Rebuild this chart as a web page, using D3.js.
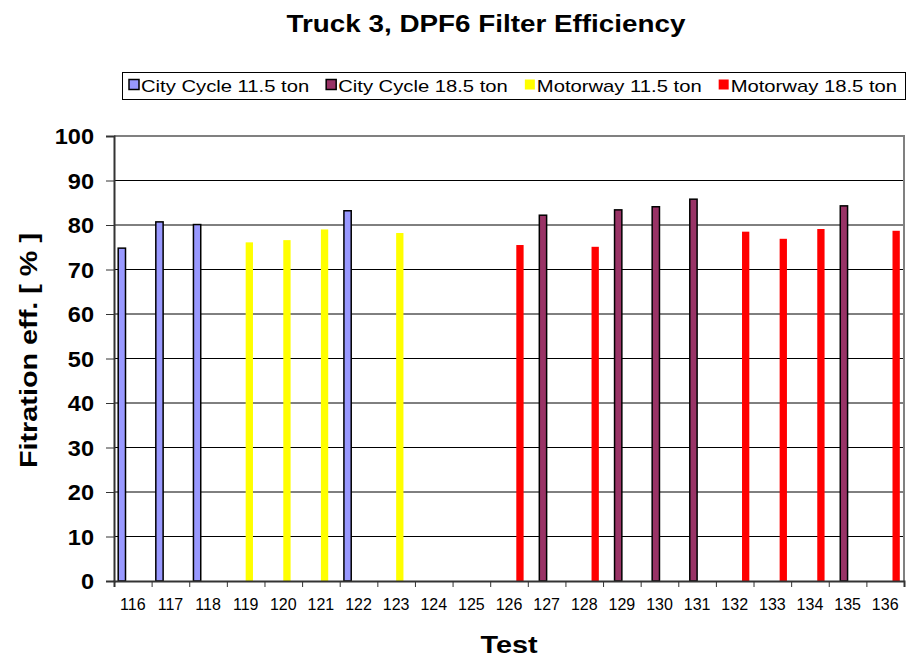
<!DOCTYPE html>
<html>
<head>
<meta charset="utf-8">
<script src="https://cdn.jsdelivr.net/npm/d3@7"></script>
<style>
  body { margin: 0; background: #fff; }
  svg { display: block; font-family: "Liberation Sans", Arial, sans-serif; }
</style>
</head>
<body>
<script>
// test numbers along the x axis
var tests = ["116", "117", "118", "119", "120", "121", "122", "123", "124", "125", "126",
             "127", "128", "129", "130", "131", "132", "133", "134", "135", "136"];

var seriesNames = ["City Cycle 11.5 ton", "City Cycle 18.5 ton", "Motorway 11.5 ton", "Motorway 18.5 ton"];
var seriesColors = ["#9999FF", "#993366", "#FFFF00", "#FF0000"];

// filtration efficiency [%] per test, null = not run in that series
var cityCycle115 = [74.8, 80.7, 80.1, null, null, null, 83.2, null, null, null, null,
                    null, null, null, null, null, null, null, null, null, null];
var cityCycle185 = [null, null, null, null, null, null, null, null, null, null, null,
                    82.2, null, 83.4, 84.1, 85.8, null, null, null, 84.3, null];
var motorway115  = [null, null, null, 76.1, 76.6, 79.0, null, 78.2, null, null, null,
                    null, null, null, null, null, null, null, null, null, null];
var motorway185  = [null, null, null, null, null, null, null, null, null, null, 75.5,
                    null, 75.1, null, null, null, 78.5, 76.9, 79.1, null, 78.7];

var yTicks = [0, 10, 20, 30, 40, 50, 60, 70, 80, 90, 100];

var seriesValues = [cityCycle115, cityCycle185, motorway115, motorway185];

var margin = { top: 136, right: 2, bottom: 78, left: 114 },
    width = 906 - margin.left - margin.right,
    height = 659 - margin.top - margin.bottom;

var svg = d3.select("body").append("svg")
    .attr("width", 906)
    .attr("height", 659);

// text in the source picture is stretched sideways, so scale glyphs in x
function stretchedText(parent, x, y, str, size, sx, weight, anchor, rotate) {
    return parent.append("text")
        .attr("transform", "translate(" + x + "," + y + ")" + (rotate ? " rotate(" + rotate + ")" : "") + " scale(" + sx + ",1)")
        .attr("text-anchor", anchor || "start")
        .style("font-size", size + "px")
        .style("font-weight", weight || "normal")
        .text(str);
}

// title
stretchedText(svg, 486, 32, "Truck 3, DPF6 Filter Efficiency", 23, 1.21, "bold", "middle");

var g = svg.append("g")
    .attr("transform", "translate(" + margin.left + "," + margin.top + ")");

var x0 = d3.scaleBand().domain(tests).range([0, width]).padding(0);
var x1 = d3.scaleBand().domain(seriesNames).range([0, x0.bandwidth()])
    .paddingInner(0).paddingOuter(0.575);
var y = d3.scaleLinear().domain([0, 100]).range([height, 0]);
var color = d3.scaleOrdinal().domain(seriesNames).range(seriesColors);

// gridlines
g.append("g").selectAll("line")
    .data(yTicks.slice(1, -1))
    .enter().append("line")
    .attr("x1", 0).attr("x2", width)
    .attr("y1", function (d) { return y(d); })
    .attr("y2", function (d) { return y(d); })
    .attr("stroke", "#000")
    .attr("stroke-width", 1);

// plot frame top and right (grey)
g.append("path")
    .attr("d", "M0," + y(100) + "H" + width + "V" + height)
    .attr("fill", "none")
    .attr("stroke", "#808080")
    .attr("stroke-width", 2);

// bars
var barData = [];
seriesNames.forEach(function (s, i) {
    seriesValues[i].forEach(function (v, j) {
        if (v != null) barData.push({ series: s, test: tests[j], value: v, outline: i < 2 });
    });
});

g.append("g").selectAll("rect")
    .data(barData)
    .enter().append("rect")
    .attr("x", function (d) { return x0(d.test) + x1(d.series); })
    .attr("y", function (d) { return y(d.value); })
    .attr("width", x1.bandwidth())
    .attr("height", function (d) { return height - y(d.value); })
    .attr("fill", function (d) { return color(d.series); })
    .attr("stroke", function (d) { return d.outline ? "#000" : "none"; })
    .attr("stroke-width", 1.5);

// y axis
var yAxis = d3.axisLeft(y).tickValues(yTicks).tickSize(8).tickFormat("");
var yAxisG = g.append("g").call(yAxis);
yAxisG.select(".domain").attr("stroke", "#333").attr("stroke-width", 2);
yAxisG.selectAll(".tick line").attr("stroke", "#333");

yTicks.forEach(function (t) {
    stretchedText(g, -20, y(t) + 8, String(t), 22, 1.07, "bold", "end");
});

// x axis: ticks on category boundaries
var xIdx = d3.scaleLinear().domain([0, tests.length]).range([0, width]);
var xAxisG = g.append("g")
    .attr("transform", "translate(0," + height + ")")
    .call(d3.axisBottom(xIdx).tickValues(d3.range(tests.length + 1)).tickSize(6).tickFormat(""));
xAxisG.select(".domain").attr("stroke", "#333").attr("stroke-width", 2);
xAxisG.selectAll(".tick line").attr("stroke", "#333");

var xLabels = g.append("g")
    .attr("transform", "translate(0," + height + ")")
    .call(d3.axisBottom(x0).tickSize(0).tickPadding(18));
xLabels.select(".domain").remove();
xLabels.selectAll("text")
    .style("font-size", "16px")
    .style("font-family", "'Liberation Sans', Arial, sans-serif")
    .attr("fill", "#000");

// axis titles
stretchedText(svg, margin.left + width / 2, 653, "Test", 24, 1.2, "bold", "middle");
stretchedText(svg, 37, margin.top + height / 2 - 8, "Fitration eff. [ % ]", 24, 1.2, "bold", "middle", -90);

// legend
var legend = svg.append("g");
legend.append("rect")
    .attr("x", 122.5).attr("y", 72.5)
    .attr("width", 783).attr("height", 27)
    .attr("fill", "#fff")
    .attr("stroke", "#000");

var lx = 129;
seriesNames.forEach(function (s, i) {
    legend.append("rect")
        .attr("x", lx).attr("y", 79.5)
        .attr("width", 10).attr("height", 10)
        .attr("fill", seriesColors[i])
        .attr("stroke", i < 2 ? "#000" : "none")
        .attr("stroke-width", 1.5);
    var t = stretchedText(legend, lx + 12, 92, s, 17, 1.19, "normal", "start");
    lx += 12 + t.node().getComputedTextLength() * 1.19 + 17;
});
</script>
</body>
</html>
